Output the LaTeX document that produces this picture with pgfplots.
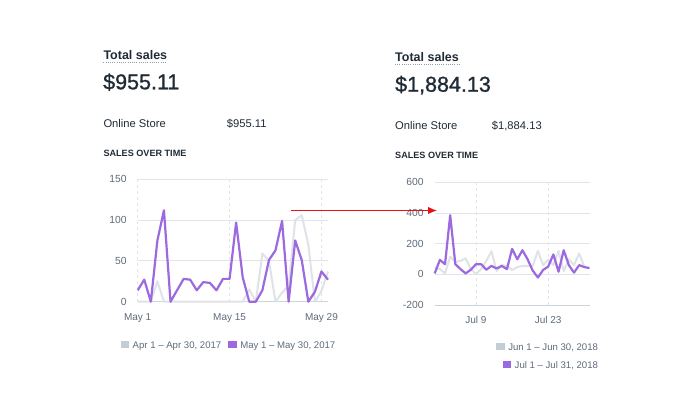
\documentclass[border=0pt]{standalone}
\usepackage{fontspec}
\setmainfont{Liberation Sans}
\newfontfamily\medfont{Liberation Sans}[FakeBold=1.0]
\usepackage{pgfplots}
\pgfplotsset{compat=1.18}
\usetikzlibrary{arrows.meta}
\definecolor{ink}{HTML}{212B36}
\definecolor{tickgray}{HTML}{5E6B7A}
\definecolor{gridgray}{HTML}{E1E5EA}
\definecolor{axisgray}{HTML}{CDD4DB}
\definecolor{linepurple}{HTML}{9C6ADE}
\definecolor{linegray}{HTML}{DFE3E8}
\definecolor{leggray}{HTML}{C4CDD5}
\definecolor{dotgray}{HTML}{919EAB}
\definecolor{arrowred}{RGB}{228,18,18}
\newcommand\fs[1]{\fontsize{#1}{#1}\selectfont}

\pgfplotsset{
  chartbase/.style={
    scale only axis,
    axis lines*=left,
    x axis line style={-, draw=axisgray, line width=0.8pt},
    y axis line style={draw=none},
    major tick length=0pt,
    xmajorgrids, ymajorgrids,
    x grid style={draw=gridgray, line width=0.7pt, dash pattern=on 3pt off 3pt},
    y grid style={draw=gridgray, line width=0.8pt},
    clip=false,
    /pgf/number format/assume math mode=true,
    yticklabel style={font=\fs{10.3}, text=tickgray, anchor=east, inner sep=0pt, xshift=-11pt},
    xticklabel style={font=\fs{10}, text=tickgray, anchor=north, inner sep=0pt},
    legend image code/.code={},
    legend style={draw=none, fill=none, inner sep=0pt, outer sep=0pt, font=\fs{9.6}, text=tickgray,
      nodes={inner sep=0pt, text height=7.6pt, text depth=2pt}},
  },
  grayline/.style={draw=linegray, line width=2pt, line join=round, no markers},
  purpleline/.style={draw=linepurple, line width=2.2pt, line join=round, no markers},
}

\begin{document}
\begin{tikzpicture}
\fill[white] (0pt,0pt) rectangle (700pt,398pt);

% ---------- left header ----------
\node[anchor=base west, inner sep=0pt, text=ink, font=\fs{12.5}\bfseries] at (103.3pt,338.7pt) {Total sales};
\draw[dotgray, line width=0.8pt, dash pattern=on 1pt off 1.2pt] (103.3pt,335.3pt) -- (167pt,335.3pt);
\node[anchor=base west, inner sep=0pt, text=ink, font=\medfont\fs{21.5}] at (103pt,308.7pt) {\$955.11};
\node[anchor=base west, inner sep=0pt, text=ink, font=\fs{11.2}] at (103.3pt,270.7pt) {Online Store};
\node[anchor=base west, inner sep=0pt, text=ink, font=\fs{11.2}] at (226.7pt,270.7pt) {\$955.11};
\node[anchor=base west, inner sep=0pt, text=ink, font=\fs{9.1}\bfseries] at (103.3pt,241.3pt) {SALES OVER TIME};

% ---------- right header ----------
\node[anchor=base west, inner sep=0pt, text=ink, font=\fs{12.5}\bfseries] at (395pt,336.7pt) {Total sales};
\draw[dotgray, line width=0.8pt, dash pattern=on 1pt off 1.2pt] (395pt,333.7pt) -- (459pt,333.7pt);
\node[anchor=base west, inner sep=0pt, text=ink, font=\medfont\fs{21.5}] at (395pt,306.3pt) {\$1,884.13};
\node[anchor=base west, inner sep=0pt, text=ink, font=\fs{11.2}] at (395pt,268.7pt) {Online Store};
\node[anchor=base west, inner sep=0pt, text=ink, font=\fs{11.2}] at (491.7pt,268.7pt) {\$1,884.13};
\node[anchor=base west, inner sep=0pt, text=ink, font=\fs{9.1}\bfseries] at (395pt,239pt) {SALES OVER TIME};

% ---------- left chart ----------
\begin{axis}[chartbase,
  at={(137.7pt,96.3pt)}, anchor=south west,
  width=190.3pt, height=122.4pt,
  xmin=0, xmax=29, ymin=0, ymax=150,
  ytick={0,50,100,150},
  xtick={0,14,28}, xticklabels={May 1,May 15,May 29},
  xticklabel style={yshift=-11.5pt},
  legend columns=2,
  legend style={at={(-0.0893,-0.358)}, anchor=west,
    /tikz/every even column/.append style={column sep=7pt}},
]
\addplot[grayline] coordinates {
(0,0) (1,0) (2,0) (3,25) (4,0) (5,0) (6,0) (7,0) (8,0) (9,0)
(10,0) (11,0) (12,0) (13,0) (14,0) (15,0) (16,0) (17,15) (18,0) (19,59)
(20,50) (21,0) (22,11) (23,20) (24,100) (25,106) (26,70) (27,0) (28,13) (29,37)
};
\addlegendentry{\textcolor{leggray}{\rule{8.3pt}{7.6pt}}\hspace{3.7pt}Apr 1 – Apr 30, 2017}
\addplot[purpleline] coordinates {
(0,14) (1,27) (2,0) (3,75) (4,112) (5,0) (6,14) (7,28) (8,27) (9,14)
(10,24) (11,23) (12,14) (13,28) (14,28) (15,97) (16,30) (17,0) (18,0) (19,14)
(20,51) (21,63) (22,99) (23,0) (24,75) (25,51) (26,0) (27,12) (28,37) (29,27)
};
\addlegendentry{\textcolor{linepurple}{\rule{8.3pt}{7.6pt}}\hspace{3.7pt}May 1 – May 30, 2017}
\end{axis}

% ---------- right chart ----------
\begin{axis}[chartbase,
  at={(434.7pt,93pt)}, anchor=south west,
  width=154.8pt, height=122.7pt,
  xmin=0, xmax=30, ymin=-200, ymax=600,
  ytick={-200,0,200,400,600},
  xtick={8,22}, xticklabels={Jul 9,Jul 23},
  xticklabel style={yshift=-10.7pt},
  legend columns=1, legend cell align=right,
  legend style={at={(1.0549,-0.307)}, anchor=north east, row sep=8.4pt},
]
\addplot[grayline] coordinates {
(0,45) (1,34) (2,6) (3,115) (4,81) (5,87) (6,104) (7,34) (8,0) (9,34)
(10,87) (11,151) (12,22) (13,60) (14,55) (15,28) (16,47) (17,55) (18,55) (19,55)
(20,153) (21,60) (22,95) (23,60) (24,153) (25,21) (26,98) (27,60) (28,136) (29,51)
};
\addlegendentry{\textcolor{leggray}{\rule{8.3pt}{7.6pt}}\hspace{3.7pt}Jun 1 – Jun 30, 2018}
\addplot[purpleline] coordinates {
(0,6) (1,94) (2,66) (3,385) (4,66) (5,34) (6,6) (7,30) (8,66) (9,66)
(10,30) (11,55) (12,38) (13,55) (14,34) (15,166) (16,98) (17,157) (18,98) (19,24)
(20,-21) (21,28) (22,51) (23,130) (24,17) (25,157) (26,60) (27,11) (28,60) (29,47) (30,41)
};
\addlegendentry{\textcolor{linepurple}{\rule{8.3pt}{7.6pt}}\hspace{3.7pt}Jul 1 – Jul 31, 2018}
\end{axis}

% ---------- red arrow ----------
\draw[arrowred, line width=1.3pt, -{Latex[length=9pt,width=7.5pt]}] (291pt,187.5pt) -- (437pt,187.5pt);
\end{tikzpicture}
\end{document}
